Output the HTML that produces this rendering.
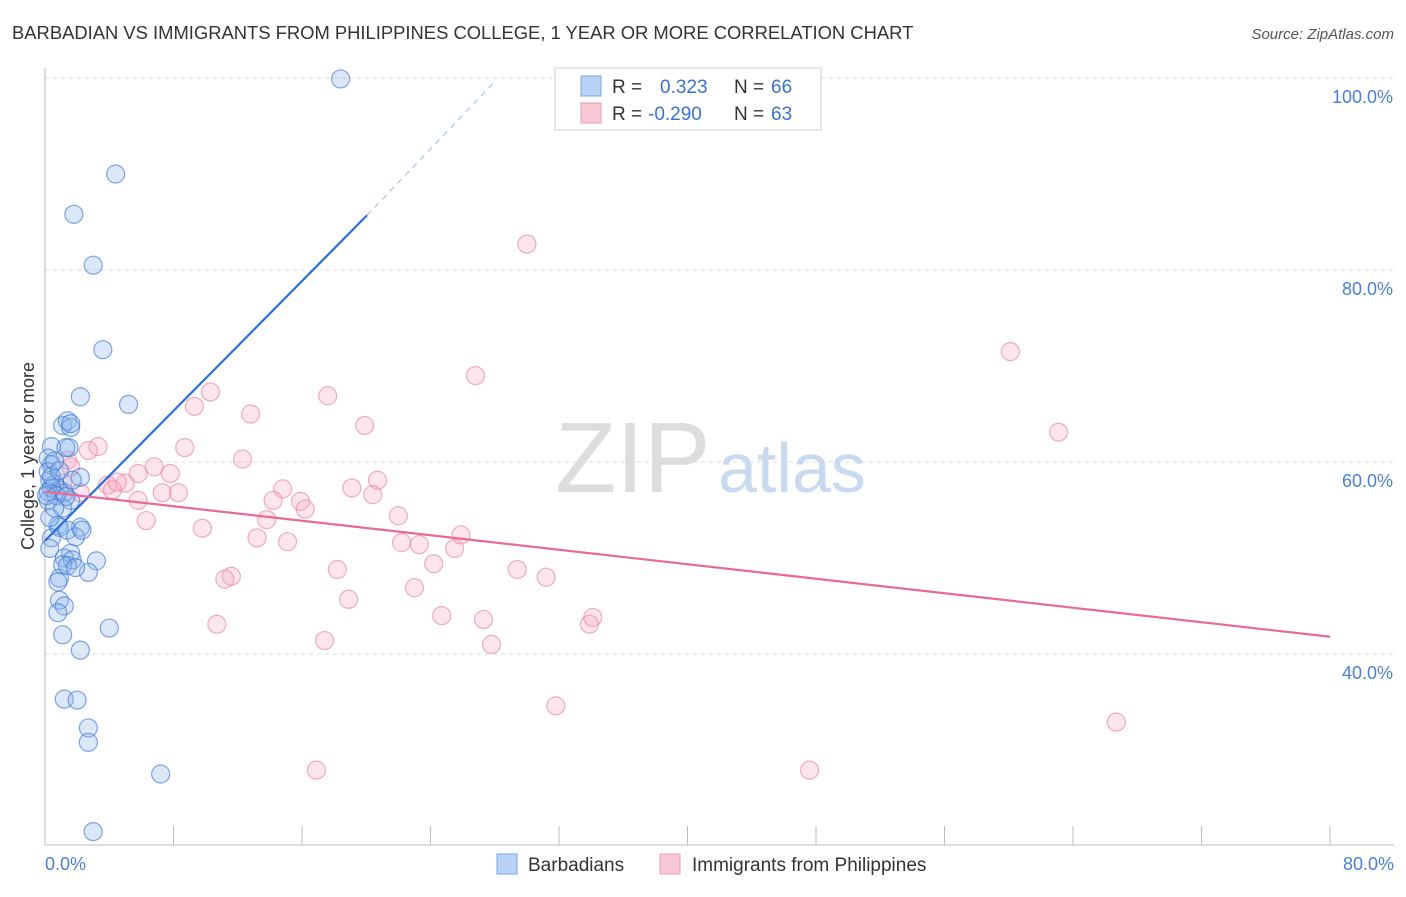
<!DOCTYPE html>
<html><head><meta charset="utf-8"><style>
body{margin:0;background:#fff;font-family:"Liberation Sans",sans-serif;}
svg text{font-family:"Liberation Sans",sans-serif;}
</style></head><body>
<svg width="1406" height="892" viewBox="0 0 1406 892">
<text x="12" y="39" font-size="18.4" fill="#333">BARBADIAN VS IMMIGRANTS FROM PHILIPPINES COLLEGE, 1 YEAR OR MORE CORRELATION CHART</text>
<text x="1394" y="39" font-size="15" fill="#555" font-style="italic" text-anchor="end">Source: ZipAtlas.com</text>
<g id="grid"></g>
<text x="555" y="492" font-size="100" fill="#ddd" font-family="Liberation Serif">ZIP</text>
<text x="718" y="492" font-size="70" fill="#c8daf0">atlas</text>
<line x1="45" y1="68" x2="45" y2="845" stroke="#bbb"/>
<line x1="45" y1="845" x2="1394" y2="845" stroke="#bbb"/>
<g id="xticks"></g>
<text x="45" y="870" font-size="18" fill="#4a7fd6">0.0%</text>
<text x="1394" y="870" font-size="18" fill="#4a7fd6" text-anchor="end">80.0%</text>
<text transform="translate(34,456) rotate(-90)" font-size="18" fill="#333" text-anchor="middle">College, 1 year or more</text>
<g id="pts"></g>
<g id="lines"></g>
<g>
<rect x="555" y="68" width="266" height="62" fill="#fff" stroke="#ccc"/>
<rect x="581" y="76" width="20" height="20" fill="#b8d3f5" stroke="#7aa6e6"/>
<text x="612" y="93" font-size="19" fill="#333">R = </text><text x="660" y="93" font-size="19" fill="#3a72d0">0.323</text>
<text x="734" y="93" font-size="19" fill="#333">N = </text><text x="771" y="93" font-size="19" fill="#3a72d0">66</text>
<rect x="581" y="103" width="20" height="20" fill="#f9c8d6" stroke="#ee9ab2"/>
<text x="612" y="120" font-size="19" fill="#333">R = </text><text x="648" y="120" font-size="19" fill="#3a72d0">-0.290</text>
<text x="734" y="120" font-size="19" fill="#333">N = </text><text x="771" y="120" font-size="19" fill="#3a72d0">63</text>
</g>
<g><rect x="497" y="854" width="20" height="20" fill="#b8d3f5" stroke="#7aa6e6"/><text x="528" y="871" font-size="19" fill="#333">Barbadians</text></g>
<g><rect x="660" y="854" width="20" height="20" fill="#f9c8d6" stroke="#ee9ab2"/><text x="692" y="871" font-size="19" fill="#333">Immigrants from Philippines</text></g>
</svg>
<script>
const yTicks=[40,60,80,100];
const xTickCount=10;
const blueX=[18.4,4.4,1.8,3.0,3.6,2.2,5.2,1.1,1.4,1.6,1.5,0.4,0.2,0.4,2.2,0.3,0.6,0.9,0.2,1.2,0.4,1.6,1.1,0.2,0.8,0.9,2.2,1.4,1.9,0.4,0.3,1.6,1.2,3.2,1.7,2.7,1.1,0.9,0.8,1.4,0.9,1.2,0.8,4.0,1.1,2.2,1.2,2.0,2.7,2.7,7.2,3.0,0.2,0.4,0.7,1.3,0.1,0.9,1.7,0.6,1.3,1.9,2.3,0.3,1.6,0.6];
const blueY=[99.9,90.0,85.8,80.5,71.7,66.8,66.0,63.8,64.3,63.6,61.5,61.6,60.4,59.7,58.4,58.1,57.7,57.1,56.9,56.8,57.3,56.0,55.2,56.0,53.4,53.2,53.2,52.9,52.2,52.1,51.0,50.5,50.0,49.7,49.8,48.5,49.3,47.9,47.5,49.2,45.6,45.0,44.3,42.7,42.0,40.4,35.3,35.2,32.3,30.8,27.5,21.5,59.0,58.5,56.5,56.4,56.5,59.1,58.1,60.1,61.5,49.0,52.9,54.2,64.0,55.2];
const pinkX=[30.0,60.1,26.8,17.6,10.3,9.3,12.8,19.9,63.1,8.7,3.3,2.7,1.4,12.3,6.8,1.6,7.8,20.7,14.8,19.1,5.0,3.9,4.2,7.3,8.3,5.8,14.2,15.9,16.2,20.4,22.0,6.3,13.8,9.8,13.2,15.1,22.2,23.3,25.5,25.9,24.2,18.2,29.4,11.6,11.2,31.2,23.0,18.9,24.7,27.3,34.1,33.9,10.7,17.4,27.8,31.8,66.7,16.9,47.6,1.1,2.2,4.5,5.8];
const pinkY=[82.7,71.5,69.0,66.9,67.3,65.8,65.0,63.8,63.1,61.5,61.6,61.2,60.2,60.3,59.5,59.5,58.8,58.1,57.2,57.3,57.8,57.6,57.1,56.8,56.8,56.0,56.0,55.9,55.1,56.6,54.4,53.9,54.0,53.1,52.1,51.7,51.6,51.4,51.0,52.4,49.4,48.8,48.8,48.1,47.8,48.0,46.9,45.7,44.0,43.6,43.8,43.1,43.1,41.4,41.0,34.6,32.9,27.9,27.9,57.8,56.8,57.9,58.8];
const blueLine=[[0,51.8],[20.05,85.7]];
const blueDash=[[20.05,85.7],[28.1,99.8]];
const pinkLine=[[0,56.9],[80,41.8]];
const sx=v=>45+v/80*1285, sy=v=>78+(100-v)/20*192;
const NS="http://www.w3.org/2000/svg";
function mk(tag,attrs,parent){const e=document.createElementNS(NS,tag);for(const k in attrs)e.setAttribute(k,attrs[k]);parent.appendChild(e);return e;}
const grid=document.getElementById('grid');
yTicks.forEach(t=>{
 const l=mk('line',{x1:45,x2:1394,y1:sy(t),y2:sy(t),stroke:'#ddd','stroke-dasharray':'4,4'},grid);
 
 
 const tx=mk('text',{x:1393,y:sy(t)+25,'font-size':18,fill:'#4a7fd6','text-anchor':'end'},grid);
 tx.textContent=t.toFixed(1)+'%';
 
 
});
const xt=document.getElementById('xticks');
for(let i=1;i<=xTickCount;i++){
 const x=sx(i*8);
 const l=mk('line',{x1:x,x2:x,y1:826,y2:845,stroke:'#bbb'},xt);
 
 
}
const pts=document.getElementById('pts');
pinkX.forEach((x,i)=>{
 const c=mk('circle',{cx:sx(x),cy:sy(pinkY[i]),r:9,fill:'rgba(246,170,195,0.3)',stroke:'rgba(234,130,160,0.65)','stroke-width':1.2},pts);
 
 
});
blueX.forEach((x,i)=>{
 const c=mk('circle',{cx:sx(x),cy:sy(blueY[i]),r:9,fill:'rgba(140,180,235,0.3)',stroke:'rgba(60,120,210,0.65)','stroke-width':1.2},pts);
 
 
});
const lines=document.getElementById('lines');
let l=mk('line',{x1:sx(blueLine[0][0]),y1:sy(blueLine[0][1]),x2:sx(blueLine[1][0]),y2:sy(blueLine[1][1]),stroke:'#2a6fd8','stroke-width':2.2},lines);


l=mk('line',{x1:sx(blueDash[0][0]),y1:sy(blueDash[0][1]),x2:sx(blueDash[1][0]),y2:sy(blueDash[1][1]),stroke:'#a8c4ec','stroke-width':1.2,'stroke-dasharray':'6,5'},lines);


l=mk('line',{x1:sx(pinkLine[0][0]),y1:sy(pinkLine[0][1]),x2:sx(pinkLine[1][0]),y2:sy(pinkLine[1][1]),stroke:'#e8689a','stroke-width':2.2},lines);


</script>
</body></html>
